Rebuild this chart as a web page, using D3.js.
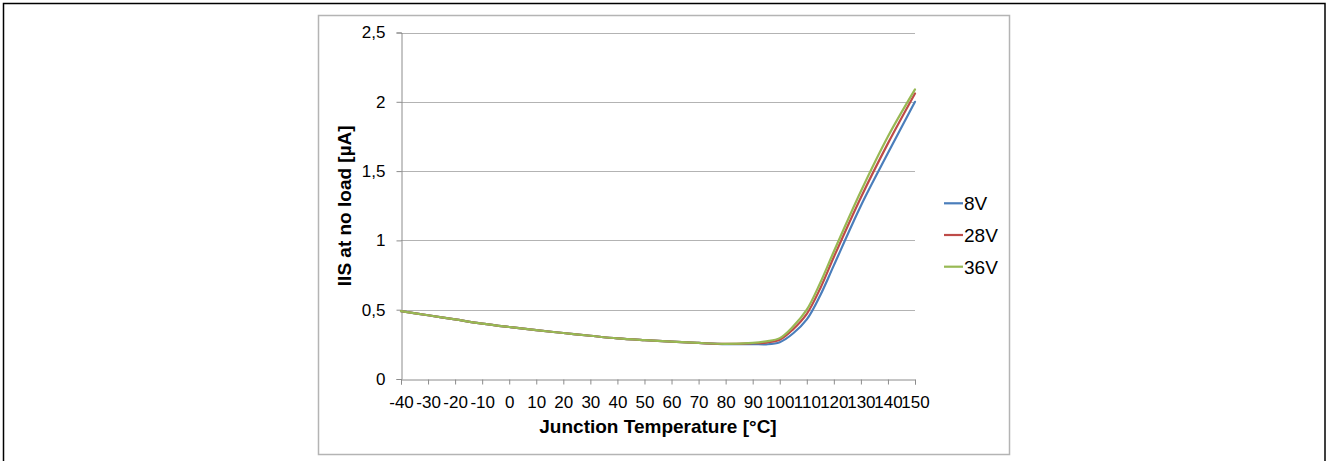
<!DOCTYPE html>
<html>
<head>
<meta charset="utf-8">
<script src="https://cdn.jsdelivr.net/npm/d3@7"></script>
<style>
  html, body { margin: 0; padding: 0; background: #fff; }
  svg { display: block; }
  text { font-family: "Liberation Sans", Arial, sans-serif; fill: #000; }
</style>
</head>
<body>
<svg id="chart" width="1328" height="461"></svg>
<script>
// ---- data ----
const temps = [-40,-30,-20,-10,0,10,20,30,40,50,60,70,80,90,95,100,105,110,115,120,130,140,150];
const v8  = [0.49,0.46,0.43,0.40,0.375,0.352,0.332,0.312,0.293,0.28,0.269,0.26,0.252,0.252,0.25,0.265,0.33,0.43,0.605,0.82,1.25,1.63,2.00];
const v28 = [0.49,0.46,0.43,0.40,0.375,0.352,0.332,0.312,0.293,0.28,0.269,0.26,0.253,0.258,0.263,0.283,0.36,0.47,0.655,0.88,1.31,1.70,2.06];
const v36 = [0.49,0.46,0.43,0.40,0.375,0.352,0.332,0.312,0.293,0.28,0.269,0.26,0.254,0.261,0.272,0.295,0.38,0.50,0.695,0.92,1.355,1.75,2.09];
const xTickValues = [-40,-30,-20,-10,0,10,20,30,40,50,60,70,80,90,100,110,120,130,140,150];
const seriesNames = ["8V","28V","36V"];
const seriesColors = ["#4a7ebb","#be4b48","#98b954"];
const yTicks = [0,0.5,1,1.5,2,2.5];
const xTitle = "Junction Temperature [°C]";
const yTitle = "IIS at no load [µA]";

const series = [v8, v28, v36];

const svg = d3.select("#chart");

// outer frame
svg.append("rect").attr("x",3.5).attr("y",3.5).attr("width",1321.5).attr("height",470)
  .attr("fill","none").attr("stroke","#000").attr("stroke-width",1.5);

// chart area box
svg.append("rect").attr("x",318.5).attr("y",15.5).attr("width",691).attr("height",439)
  .attr("fill","#fff").attr("stroke","#b4b4b4").attr("stroke-width",1.5);

const x = d3.scaleLinear().domain([-40,150]).range([401,915]);
const y = d3.scaleLinear().domain([0,2.5]).range([379,32.5]);

// gridlines
svg.append("g").selectAll("line").data(yTicks.filter(d=>d>0)).join("line")
  .attr("x1",x(-40)).attr("x2",x(150))
  .attr("y1",d=>Math.round(y(d))+0.5).attr("y2",d=>Math.round(y(d))+0.5)
  .attr("stroke","#b3b3b3").attr("stroke-width",1);

// y axis
const yAxis = svg.append("g").attr("transform",`translate(${Math.round(x(-40))+0.5},0)`)
  .call(d3.axisLeft(y).tickValues(yTicks).tickSize(5).tickPadding(11)
    .tickFormat(d=>String(d).replace(".",",")));
yAxis.select(".domain").attr("stroke","#8c8c8c");
yAxis.selectAll(".tick line").attr("stroke","#8c8c8c");
yAxis.selectAll("text").attr("font-size",17).attr("font-family","Liberation Sans, Arial, sans-serif");

// x axis
const xAxis = svg.append("g").attr("transform",`translate(0,${Math.round(y(0))+0.5})`)
  .call(d3.axisBottom(x).tickValues(xTickValues).tickSize(5).tickPadding(11).tickFormat(d=>String(d)));
xAxis.select(".domain").attr("stroke","#8c8c8c");
xAxis.selectAll(".tick line").attr("stroke","#8c8c8c");
xAxis.selectAll("text").attr("font-size",17).attr("font-family","Liberation Sans, Arial, sans-serif");

// lines
const line = d3.line().x((d,i)=>x(temps[i])).y(d=>y(d)).curve(d3.curveCatmullRom.alpha(0.5));
series.forEach((s,k)=>{
  svg.append("path").datum(s).attr("d",line)
    .attr("fill","none").attr("stroke",seriesColors[k]).attr("stroke-width",2.2)
    .attr("stroke-linejoin","round").attr("stroke-linecap","round");
});

// axis titles
svg.append("text").attr("x",(x(-40)+x(150))/2).attr("y",433)
  .attr("text-anchor","middle").attr("font-size",19).attr("font-weight","bold").text(xTitle);
svg.append("text").attr("transform",`translate(351,${(y(0)+y(2.5))/2}) rotate(-90)`)
  .attr("text-anchor","middle").attr("font-size",19).attr("font-weight","bold").text(yTitle);

// legend
const legY = [203.3, 235, 266.7];
seriesNames.forEach((n,k)=>{
  svg.append("line").attr("x1",944).attr("x2",963).attr("y1",legY[k]).attr("y2",legY[k])
    .attr("stroke",seriesColors[k]).attr("stroke-width",2.2);
  svg.append("text").attr("x",964).attr("y",legY[k]).attr("dy","0.36em")
    .attr("font-size",19).text(n);
});
</script>
</body>
</html>
